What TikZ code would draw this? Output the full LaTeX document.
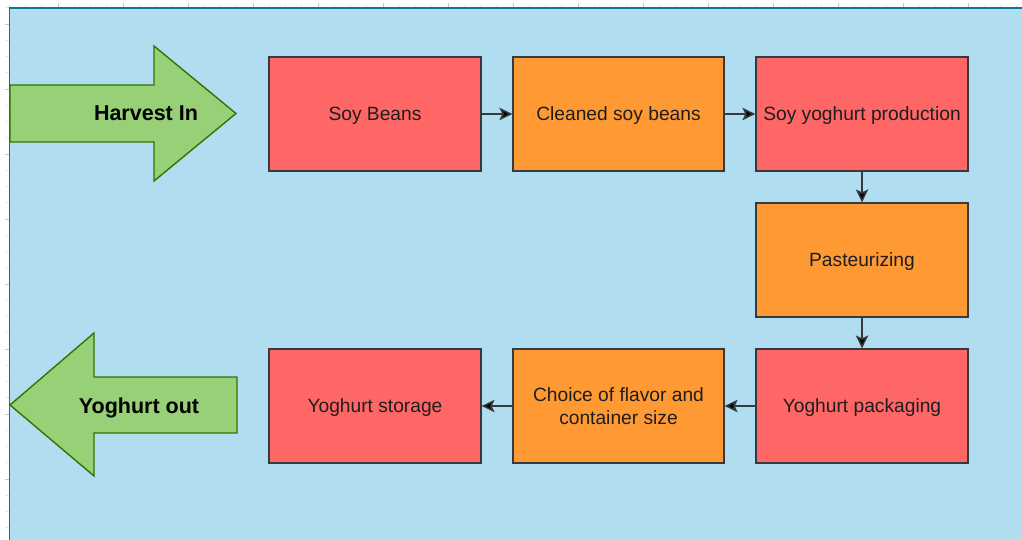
\documentclass[tikz,border=0pt]{standalone}
\usepackage{fontspec}
\setmainfont{Liberation Sans}
\usetikzlibrary{arrows.meta}
\definecolor{bgblue}{HTML}{B1DDF0}
\definecolor{bgline}{HTML}{10739E}
\definecolor{redbox}{HTML}{FF6666}
\definecolor{orangebox}{HTML}{FF9933}
\definecolor{boxline}{HTML}{36393D}
\definecolor{greenfill}{HTML}{97D077}
\definecolor{greenline}{HTML}{2D7600}
\definecolor{txt}{HTML}{1E1E1E}
\tikzset{
  stepbox/.style={draw=boxline, line width=1.3pt, rectangle, inner sep=0pt,
    minimum width=212pt, minimum height=114pt, align=center, text=txt,
    font=\fontsize{19.2pt}{23pt}\selectfont},
  oneline/.style={text height=13.8pt, text depth=0pt},
  redstep/.style={stepbox, fill=redbox},
  orangestep/.style={stepbox, fill=orangebox},
  flow/.style={draw=boxline, line width=1.5pt, -{Stealth[length=13pt,width=12.5pt,inset=3pt,fill=black]}},
  bigarrow/.style={fill=greenfill, draw=greenline, line width=1.4pt, line join=miter},
  bigtext/.style={font=\fontsize{21.5pt}{25pt}\selectfont\bfseries, text=black, inner sep=0pt,
    text height=15.4pt, text depth=0pt},
  majortick/.style={draw=black!22, line width=0.8pt},
  minortick/.style={draw=black!10, line width=0.8pt}
}
\begin{document}
\begin{tikzpicture}[x=1pt,y=-1pt]
\useasboundingbox (0,0) rectangle (1022,540);
\fill[white] (0,0) rectangle (1022,540);
% ruler ticks
\foreach \k in {-3,...,60}{
  \pgfmathsetmacro{\xx}{58+16.25*\k}
  \pgfmathtruncatemacro{\m}{mod(\k+40,4)}
  \ifnum\m=0
    \draw[majortick] (\xx,3.5) -- (\xx,7.5);
  \else
    \draw[minortick] (\xx,4.8) -- (\xx,7);
  \fi
}
\foreach \k in {-1,...,32}{
  \pgfmathsetmacro{\yy}{24+16.25*\k}
  \pgfmathtruncatemacro{\m}{mod(\k+40,4)}
  \ifnum\m=0
    \draw[majortick] (4.5,\yy) -- (9,\yy);
  \else
    \draw[minortick] (5.5,\yy) -- (8.5,\yy);
  \fi
}
% background panel
\fill[bgblue] (9.5,8) rectangle (1030,550);
\draw[bgline, line width=1.5pt] (9.5,550) -- (9.5,8) -- (1030,8);
% big green arrows
\draw[bigarrow] (10,85) -- (154,85) -- (154,46) -- (236,113.5) -- (154,181) -- (154,142) -- (10,142) -- cycle;
\node[bigtext] (harvest) at (146,112.5) {Harvest In};
\draw[bigarrow] (10,405) -- (94,333) -- (94,377) -- (237,377) -- (237,433) -- (94,433) -- (94,476) -- cycle;
\node[bigtext] (yout) at (139,405.5) {Yoghurt out};
% process boxes
\node[redstep, oneline] (sb) at (375,114) {Soy Beans};
\node[orangestep, oneline, minimum width=211pt] (cs) at (618.5,114) {Cleaned soy beans};
\node[redstep, oneline] (syp) at (862,114) {Soy yoghurt production};
\node[orangestep, oneline] (past) at (862,260) {Pasteurizing};
\node[redstep, oneline] (pack) at (862,406) {Yoghurt packaging};
\node[orangestep, minimum width=211pt] (choice) at (618.5,406) {Choice of flavor and\\container size};
\node[redstep, oneline] (stor) at (375,406) {Yoghurt storage};
% connectors
\draw[flow] (sb.east) -- (cs.west);
\draw[flow] (cs.east) -- (syp.west);
\draw[flow] (syp.south) -- (past.north);
\draw[flow] (past.south) -- (pack.north);
\draw[flow] (pack.west) -- (choice.east);
\draw[flow] (choice.west) -- (stor.east);
\end{tikzpicture}
\end{document}
